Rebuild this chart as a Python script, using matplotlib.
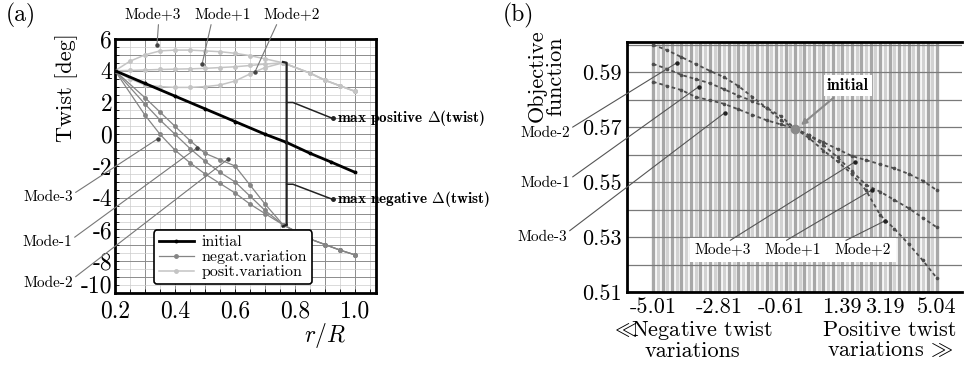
import numpy as np
import matplotlib
matplotlib.use("Agg")
import matplotlib.pyplot as plt
from matplotlib.ticker import MultipleLocator
from matplotlib.patches import Rectangle

plt.rcParams['font.family'] = ['cmr10', 'DejaVu Serif']
plt.rcParams['mathtext.fontset'] = 'cm'
plt.rcParams['axes.unicode_minus'] = False

# ---- (a) twist distributions ----
r_init = [0.2, 0.3, 0.4, 0.5, 0.6, 0.7, 0.77, 0.85, 0.92, 1.0]
tw_init = [4.0, 3.2, 2.4, 1.6, 0.8, 0.0, -0.5, -1.2, -1.75, -2.4]

r_neg = [0.2, 0.3, 0.35, 0.4, 0.45, 0.5, 0.55, 0.6, 0.65, 0.7, 0.76, 0.85, 0.9, 0.95, 1.0]
neg_tail = [-6.6, -6.95, -7.3, -7.6]
tw_mode_m2 = [4.0, 2.3, 1.4, 0.5, -0.4, -1.2, -1.6, -2.0, -3.2, -4.4, -5.7] + neg_tail
tw_mode_m1 = [4.0, 1.9, 0.9, 0.0, -0.9, -1.7, -2.4, -3.0, -3.9, -4.8, -5.7] + neg_tail
tw_mode_m3 = [4.0, 1.2, 0.0, -1.0, -1.8, -2.5, -3.1, -3.7, -4.4, -5.0, -5.7] + neg_tail

r_pos = [0.2, 0.25, 0.3, 0.35, 0.4, 0.45, 0.5, 0.55, 0.6, 0.65, 0.7, 0.76, 0.85, 0.9, 0.95, 1.0]
pos_tail = [3.85, 3.4, 3.05, 2.7]
tw_mode_p3 = [4.0, 4.6, 5.0, 5.25, 5.3, 5.3, 5.25, 5.2, 5.1, 4.95, 4.75, 4.5] + pos_tail
tw_mode_p1 = [4.0, 4.02, 4.05, 4.08, 4.1, 4.12, 4.15, 4.2, 4.25, 4.33, 4.42, 4.5] + pos_tail
tw_mode_p2 = [4.0, 3.5, 3.1, 3.0, 2.95, 2.95, 3.0, 3.1, 3.35, 3.8, 4.2, 4.5] + pos_tail

# bracket: x, then top / upper notch / junction / lower notch / bottom
br_x = 0.772
br_y = [4.5, 2.0, -0.45, -3.15, -5.7]
br_text_y = [1.0, -4.1]

# ---- (b) objective function ----
idx_neg = [0, 3, 6, 9, 12, 15, 18, 21, 24, 27, 30]
obj_mode_m2 = [0.600, 0.598, 0.5955, 0.593, 0.5905, 0.5882, 0.585, 0.581, 0.577, 0.5725, 0.5695]
obj_mode_m1 = [0.593, 0.5912, 0.589, 0.5875, 0.586, 0.5838, 0.5815, 0.5795, 0.577, 0.574, 0.5695]
obj_mode_m3 = [0.5865, 0.585, 0.5835, 0.581, 0.5798, 0.5785, 0.5765, 0.5745, 0.5725, 0.571, 0.5695]
idx_pos = [30, 33, 36, 39, 42, 45, 48, 51, 54, 57, 60]
obj_mode_p3 = [0.5695, 0.567, 0.5645, 0.562, 0.5595, 0.558, 0.5565, 0.555, 0.553, 0.5505, 0.547]
obj_mode_p1 = [0.5695, 0.567, 0.5635, 0.559, 0.554, 0.549, 0.5465, 0.5435, 0.5405, 0.537, 0.5335]
obj_mode_p2 = [0.5695, 0.566, 0.5615, 0.5575, 0.553, 0.547, 0.538, 0.533, 0.5275, 0.5215, 0.515]
n_samples = 61
xtick_idx = [0, 14, 27, 40, 49, 60]
xtick_lab = ['-5.01', '-2.81', '-0.61', '1.39', '3.19', '5.04']
ytick_vals = [0.51, 0.53, 0.55, 0.57, 0.59]


def fp(x, y):
    return (x / 977.0, 1 - y / 372.0)


fig = plt.figure(figsize=(9.77, 3.72), dpi=100)
ax1 = fig.add_axes([0.1177, 0.2124, 0.2672, 0.6828])
ax2 = fig.add_axes([0.6418, 0.2151, 0.3429, 0.6720])

# ---------------- (a) ----------------
ax1.set_xlim(0.2, 1.07)
ax1.set_ylim(-10, 6)
ax1.set_xticks(np.arange(0.2, 1.06, 0.1))
ax1.set_xticklabels(['0.2', '', '0.4', '', '0.6', '', '0.8', '', '1.0'], fontsize=17)
ax1.set_yticks(np.arange(-10, 6.1, 1))
ax1.set_yticklabels([str(v) if v % 2 == 0 else '' for v in range(-10, 7)], fontsize=17)
ax1.get_yticklabels()[0].set_va('baseline')   # -10 sits on the corner
ax1.xaxis.set_minor_locator(MultipleLocator(0.05))
ax1.yaxis.set_minor_locator(MultipleLocator(0.5))
ax1.grid(which='major', color='#8c8c8c', lw=0.7)
ax1.grid(which='minor', color='#cccccc', lw=0.5)
ax1.tick_params(which='both', direction='in', length=3, width=0.6)
ax1.tick_params(axis='x', pad=5)
ax1.tick_params(axis='y', pad=2)
for s in ax1.spines.values():
    s.set_linewidth(2)

pos_kw = dict(color='#c4c4c4', lw=1.1, marker='o', ms=2.5, zorder=3)
neg_kw = dict(color='#858585', lw=0.9, marker='o', ms=2.5, zorder=3)
ax1.plot(r_pos, tw_mode_p3, **pos_kw)
ax1.plot(r_pos, tw_mode_p1, **pos_kw)
lp, = ax1.plot(r_pos, tw_mode_p2, label='posit.variation', **pos_kw)
ax1.plot(r_neg, tw_mode_m2, **neg_kw)
ax1.plot(r_neg, tw_mode_m1, **neg_kw)
ln, = ax1.plot(r_neg, tw_mode_m3, label='negat.variation', **neg_kw)
li, = ax1.plot(r_init, tw_init, color='black', lw=2, marker='o', ms=1.8, label='initial', zorder=4)

# brackets
ax1.plot([0.76, br_x, br_x], [br_y[0] + 0.05, br_y[0], br_y[4]], color='#222', lw=1.6, zorder=5)
ax1.plot([br_x, 0.76], [br_y[4], br_y[4] - 0.1], color='#222', lw=1.6, zorder=5)
for ym, yt in zip([br_y[1], br_y[3]], br_text_y):
    ax1.plot([br_x, 0.793, 0.925], [ym, ym, yt], color='#222', lw=1.1, zorder=5,
             clip_on=False)
    ax1.plot([0.925], [yt], 'o', color='#222', ms=2.5, clip_on=False, zorder=5)
ax1.text(0.94, br_text_y[0], r'max positive $\mathbf{\Delta}$(twist)', family='cmb10',
         fontsize=11, ha='left', va='center')
ax1.text(0.94, br_text_y[1], r'max negative $\mathbf{\Delta}$(twist)', family='cmb10',
         fontsize=11, ha='left', va='center')

leg = ax1.legend(handles=[li, ln, lp], loc='lower left', bbox_to_anchor=(0.149, 0.035),
                 borderaxespad=0, fontsize=11.5, handlelength=2.2, labelspacing=0.05,
                 handletextpad=0.5, borderpad=0.3, fancybox=True, framealpha=1,
                 edgecolor='black')
leg.get_frame().set_linewidth(1.2)

ann_kw = dict(arrowstyle='-', color='#777777', lw=0.8, shrinkA=0, shrinkB=0)
mode_a_top = [('Mode+3', (153, 15), (0.34, 5.65), (0.6, 0)),
              ('Mode+1', (223, 15), (0.49, 4.4), (0.3, 0)),
              ('Mode+2', (292, 15), (0.667, 3.95), (0.25, 0))]
mode_a_left = [('Mode-3', (48, 197), (0.343, -0.28), (1.0, 0.7)),
               ('Mode-1', (47, 242), (0.473, -0.86), (1.0, 0.7)),
               ('Mode-2', (48, 283), (0.577, -1.56), (1.0, 0.8))]
for lab, tpx, tip, rp in mode_a_top + mode_a_left:
    ax1.annotate(lab, xy=tip, xycoords='data', xytext=fp(*tpx), textcoords='figure fraction',
                 ha='center', va='center', fontsize=11,
                 arrowprops=dict(relpos=rp, **ann_kw), annotation_clip=False)
    ax1.plot([tip[0]], [tip[1]], 'o', color='#444', ms=2.2, zorder=6, clip_on=False)

fig.text(*fp(67, 88), 'Twist [deg]', rotation=90, ha='center', va='center', fontsize=16)
fig.text(*fp(325, 336), r'$r/R$', ha='center', va='center', fontsize=17)
fig.text(*fp(21, 15), '(a)', ha='center', va='center', fontsize=17)

# ---------------- (b) ----------------
ax2.set_xlim(-5.5, 65.3)
ax2.set_ylim(0.51, 0.601)
idx_all = np.arange(n_samples)
stripe_cols = ['#a8a8a8' if k % 2 == 0 else '#d2d2d2' for k in idx_all]
ax2.vlines(idx_all, 0.51, 0.601, colors=stripe_cols, lw=2.4, zorder=1)
ax2.hlines(np.arange(0.51, 0.6005, 0.01), -5.5, 65.3, color='#7a7a7a', lw=0.9, zorder=2)

ob_kw = dict(color='#4d4d4d', lw=1.3, ls=(0, (2, 1.6)), marker='o', ms=1.6, zorder=3)
for ys in [obj_mode_m2, obj_mode_m1, obj_mode_m3]:
    ax2.plot(idx_neg, ys, **ob_kw)
for ys in [obj_mode_p3, obj_mode_p1, obj_mode_p2]:
    ax2.plot(idx_pos, ys, **ob_kw)
ax2.plot([idx_neg[-1]], [obj_mode_m2[-1]], 'o', color='#8a8a8a', ms=6, zorder=4)

ax2.set_xticks(xtick_idx)
ax2.set_xticklabels(xtick_lab, fontsize=16)
ax2.set_yticks(ytick_vals)
ax2.set_yticklabels(['%.2f' % v for v in ytick_vals], fontsize=16)
ax2.tick_params(length=0, pad=4)
ax2.spines['right'].set_visible(False)
for s in ['left', 'bottom', 'top']:
    ax2.spines[s].set_linewidth(2)

ax2.annotate('initial', xy=(idx_neg[-1] + 0.6, obj_mode_m2[-1] + 0.0003), xycoords='data',
             xytext=(41.2, 0.5851), textcoords='data', ha='center', va='center',
             family='cmb10', fontsize=12,
             bbox=dict(fc='white', ec='none', pad=2),
             arrowprops=dict(arrowstyle='-|>', color='#8a8a8a', lw=1.5, mutation_scale=8,
                             shrinkA=2, shrinkB=3))

# white box behind the Mode+ labels
bx0, by0 = fp(690, 262)
bx1, by1 = fp(896, 238)
ax2.add_patch(Rectangle((bx0, by0), bx1 - bx0, by1 - by0, transform=fig.transFigure,
                        fc='white', ec='none', zorder=4.5, clip_on=False))

mode_b = [('Mode-2', (545, 133), (5.1, 0.5935), (1.0, 0.8)),
          ('Mode-1', (545, 183), (9.7, 0.5848), (1.0, 0.8)),
          ('Mode-3', (542, 237), (15.2, 0.5753), (1.0, 0.8)),
          ('Mode+3', (723, 250), (42.7, 0.5574), (0.55, 1.0)),
          ('Mode+1', (793, 250), (46.3, 0.5472), (0.3, 1.0)),
          ('Mode+2', (863, 250), (49.0, 0.5359), (0.1, 1.0))]
for lab, tpx, tip, rp in mode_b:
    ax2.annotate(lab, xy=tip, xycoords='data', xytext=fp(*tpx), textcoords='figure fraction',
                 ha='center', va='center', fontsize=11,
                 arrowprops=dict(relpos=rp, arrowstyle='-', color='#555', lw=0.8,
                                 shrinkA=0, shrinkB=0), annotation_clip=False, zorder=5)
    ax2.plot([tip[0]], [tip[1]], 'o', color='#222', ms=2.2, zorder=6)

fig.text(*fp(546, 76), 'Objective\nfunction', rotation=90, ha='center', va='center',
         fontsize=16, linespacing=0.95)
fig.text(*fp(692, 340), r'$\ll\!\!\!$Negative twist' + '\nvariations', ha='center',
         va='center', fontsize=16, linespacing=1.0)
fig.text(*fp(890, 340), 'Positive twist\nvariations ' + r'$\!\gg$', ha='center', va='center',
         fontsize=16, linespacing=1.0)
fig.text(*fp(518, 15), '(b)', ha='center', va='center', fontsize=17)

fig.savefig('out.png', dpi=100)
